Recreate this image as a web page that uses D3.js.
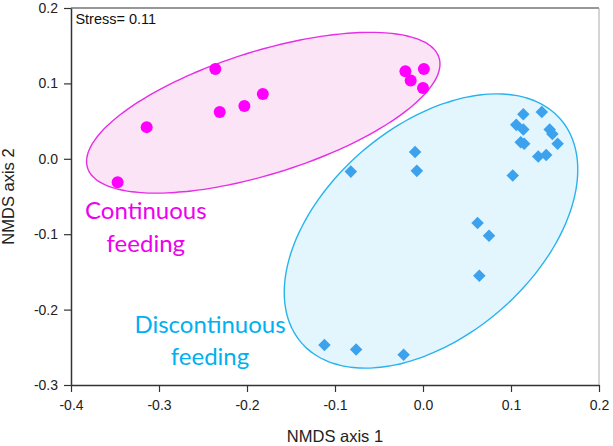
<!DOCTYPE html>
<html>
<head>
<meta charset="utf-8">
<script src="https://cdn.jsdelivr.net/npm/d3@7"></script>
<style>
  body { margin: 0; background: #fff; }
  svg { display: block; }
</style>
</head>
<body>
<div id="chart-container"></div>
<script>
// NMDS scores
const continuousX = [-0.347, -0.314, -0.236, -0.231, -0.203, -0.182, -0.020, -0.014, 0.001, 0.000];
const continuousY = [-0.031, 0.042, 0.119, 0.062, 0.070, 0.086, 0.116, 0.104, 0.119, 0.094];

const discontinuousX = [0.114, 0.135, 0.106, 0.114, 0.144, 0.147, 0.111, 0.115, 0.153, 0.131, 0.140,
  -0.009, -0.082, -0.007, 0.102, 0.062, 0.075, 0.064, -0.112, -0.076, -0.022];
const discontinuousY = [0.059, 0.062, 0.045, 0.039, 0.039, 0.033, 0.022, 0.020, 0.020, 0.003, 0.005,
  0.009, -0.017, -0.016, -0.022, -0.085, -0.102, -0.155, -0.247, -0.253, -0.260];

// group ellipses: centre and two conjugate half-axes, in NMDS units
const continuousEllipse = { cx: -0.1815, cy: 0.0611, ax: 0.1997, ay: 0.0731, bx: 0.0208, by: -0.0776 };
const discontinuousEllipse = { cx: 0.0091, cy: -0.0958, ax: 0.1474, ay: 0.1480, bx: 0.0780, by: -0.1057 };

const xTicks = [-0.4, -0.3, -0.2, -0.1, 0.0, 0.1, 0.2];
const yTicks = [-0.3, -0.2, -0.1, 0.0, 0.1, 0.2];

const stressText = "Stress= 0.11";
const groupLabels = [
  { lines: ["Continuous", "feeding"], x: -0.315, y: -0.080, color: "#ee00ee" },
  { lines: ["Discontinuous", "feeding"], x: -0.242, y: -0.231, color: "#00b0f0" }
];

const margin = { top: 8, right: 14, bottom: 61, left: 71 };
const width = 613 - margin.left - margin.right;
const height = 446 - margin.top - margin.bottom;

const x = d3.scaleLinear().domain([-0.4, 0.2]).range([0, width]);
const y = d3.scaleLinear().domain([-0.3, 0.2]).range([height, 0]);

// plain hyphen for negatives, like the original
const fmt = d => d.toFixed(1);

const svg = d3.select("#chart-container")
  .append("svg")
  .attr("width", 613)
  .attr("height", 446)
  .append("g")
  .attr("transform", `translate(${margin.left},${margin.top})`);

function ellipsePath(e) {
  const pts = d3.range(0, 360, 3).map(deg => {
    const t = deg * Math.PI / 180;
    return [x(e.cx + e.ax * Math.cos(t) + e.bx * Math.sin(t)),
            y(e.cy + e.ay * Math.cos(t) + e.by * Math.sin(t))];
  });
  return d3.line().curve(d3.curveCardinalClosed)(pts);
}

// ellipses
svg.append("path")
  .attr("d", ellipsePath(continuousEllipse))
  .attr("fill", "#fce4f7")
  .attr("stroke", "#e62ee6")
  .attr("stroke-width", 1.4);

svg.append("path")
  .attr("d", ellipsePath(discontinuousEllipse))
  .attr("fill", "#e3f5fd")
  .attr("stroke", "#29b3ee")
  .attr("stroke-width", 1.4);

// frame: top and right
svg.append("line")
  .attr("x1", 0).attr("x2", width).attr("y1", 0).attr("y2", 0)
  .attr("stroke", "#333").attr("stroke-width", 1.2);
svg.append("line")
  .attr("x1", width).attr("x2", width).attr("y1", 0).attr("y2", height)
  .attr("stroke", "#aaa").attr("stroke-width", 1);

// points
const contPts = continuousX.map((v, i) => ({ x: v, y: continuousY[i] }));
const discPts = discontinuousX.map((v, i) => ({ x: v, y: discontinuousY[i] }));

svg.selectAll(".disc")
  .data(discPts)
  .join("path")
  .attr("class", "disc")
  .attr("transform", d => `translate(${x(d.x)},${y(d.y)})`)
  .attr("d", d3.symbol(d3.symbolDiamond2, 100)())
  .attr("fill", "#3ca2ee");

svg.selectAll(".cont")
  .data(contPts)
  .join("circle")
  .attr("class", "cont")
  .attr("cx", d => x(d.x))
  .attr("cy", d => y(d.y))
  .attr("r", 6)
  .attr("fill", "#ff00ff");

// axes
svg.append("g")
  .attr("transform", `translate(0,${height})`)
  .style("font-family", "'Liberation Sans', Arial, sans-serif")
  .style("font-size", "14px")
  .call(d3.axisBottom(x).tickValues(xTicks).tickFormat(fmt).tickSize(7).tickPadding(8).tickSizeOuter(0))
  .call(g => g.select(".domain").attr("stroke", "#333").attr("stroke-width", 1.5))
  .call(g => g.selectAll(".tick line").attr("stroke", "#333").attr("stroke-width", 1.2))
  .call(g => g.selectAll(".tick text").attr("fill", "#222"));

svg.append("g")
  .style("font-family", "'Liberation Sans', Arial, sans-serif")
  .style("font-size", "14px")
  .call(d3.axisLeft(y).tickValues(yTicks).tickFormat(fmt).tickSize(7).tickPadding(6).tickSizeOuter(0))
  .call(g => g.select(".domain").attr("stroke", "#333").attr("stroke-width", 1.5))
  .call(g => g.selectAll(".tick line").attr("stroke", "#333").attr("stroke-width", 1.2))
  .call(g => g.selectAll(".tick text").attr("fill", "#222"));

// axis titles
svg.append("text")
  .attr("x", width / 2)
  .attr("y", height + 57)
  .attr("text-anchor", "middle")
  .style("font-family", "'Liberation Sans', Arial, sans-serif")
  .style("font-size", "16.5px")
  .attr("fill", "#222")
  .text("NMDS axis 1");

svg.append("text")
  .attr("transform", `translate(${-margin.left + 14},${height / 2}) rotate(-90)`)
  .attr("text-anchor", "middle")
  .style("font-family", "'Liberation Sans', Arial, sans-serif")
  .style("font-size", "16.5px")
  .attr("fill", "#222")
  .text("NMDS axis 2");

// stress annotation
svg.append("text")
  .attr("x", x(-0.395))
  .attr("y", y(0.179))
  .style("font-family", "'Liberation Sans', Arial, sans-serif")
  .style("font-size", "14.5px")
  .attr("fill", "#111")
  .text(stressText);

// group labels
groupLabels.forEach(lab => {
  const t = svg.append("text")
    .attr("x", x(lab.x))
    .attr("y", y(lab.y))
    .attr("text-anchor", "middle")
    .style("font-family", "Lato, 'Open Sans', sans-serif")
    .style("font-size", "24px")
    .attr("fill", lab.color);
  lab.lines.forEach((s, i) => {
    t.append("tspan")
      .attr("x", x(lab.x))
      .attr("dy", i === 0 ? 0 : "1.35em")
      .text(s);
  });
});
</script>
</body>
</html>
